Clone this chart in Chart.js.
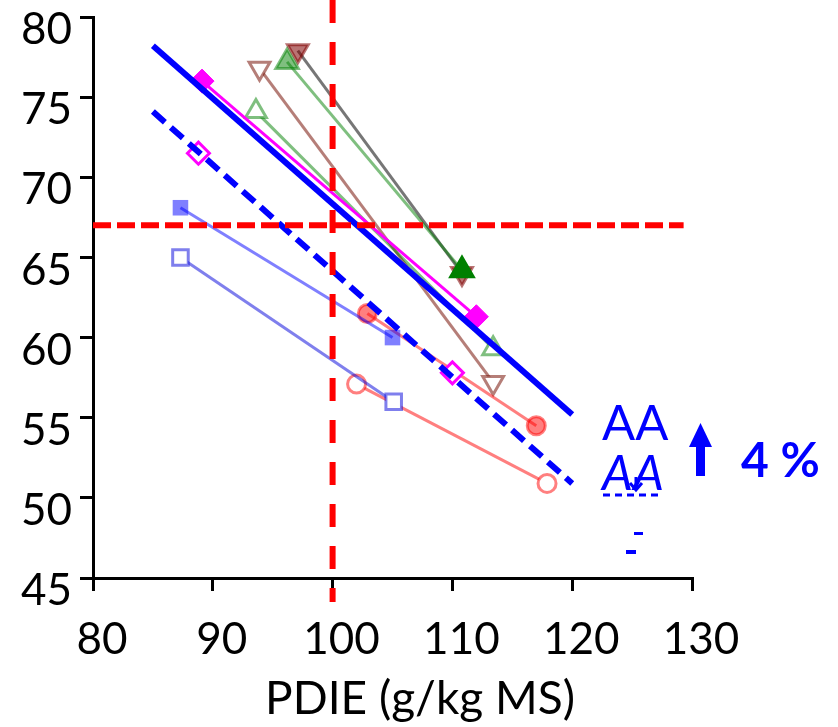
<!DOCTYPE html>
<html>
<head>
<meta charset="utf-8">
<script src="https://cdn.jsdelivr.net/npm/chart.js@4/dist/chart.umd.min.js"></script>
<style>
  html, body { margin: 0; padding: 0; background: #fff; }
  #wrap { width: 838px; height: 727px; }
</style>
</head>
<body>
<div id="wrap"><canvas id="myChart" width="838" height="727"></canvas></div>
<script>
// axes
const xTicks = [80, 90, 100, 110, 120, 130];
const yTicks = [45, 50, 55, 60, 65, 70, 75, 80];
const xTitle = 'PDIE (g/kg MS)';

// points (PDIE, y)
const magFullX = [89.1, 112.0];
const magFullY = [76.0, 61.3];
const magOpenX = [88.8, 110.0];
const magOpenY = [71.5, 57.8];
const blueFullX = [87.3, 105.0];
const blueFullY = [68.1, 60.0];
const blueOpenX = [87.3, 105.1];
const blueOpenY = [65.0, 56.0];
const redFullX = [102.9, 117.0];
const redFullY = [61.5, 54.5];
const redOpenX = [102.0, 117.9];
const redOpenY = [57.1, 50.9];
const greenFullX = [96.2, 110.8];
const greenFullY = [77.2, 64.2];
const greenOpenX = [93.6, 113.4];
const greenOpenY = [74.1, 59.3];
const brownOpenX = [93.9, 113.4];
const brownOpenY = [76.8, 57.2];
const brownFullX = [97.1, 110.8];
const brownFullY = [77.9, 64.0];

// regression lines
const regX = [85, 120];
const regSolidY = [78.2, 55.2];
const regDashY = [74.1, 50.9];

// reference lines
const refX = 100;
const refY = 67;

function pts(xs, ys) {
    return xs.map((x, i) => ({ x: x, y: ys[i] }));
}

function serie(xs, ys, style) {
    return Object.assign({
        data: pts(xs, ys),
        showLine: true,
        borderWidth: 3,
        pointBorderWidth: 3,
        order: 2
    }, style);
}

const blue = '#0000ff';

const datasets = [
    serie(regX, regSolidY, { borderColor: blue, borderWidth: 6, pointRadius: 0, order: 1 }),
    serie(regX, regDashY, { borderColor: blue, borderWidth: 6, borderDash: [16, 8], pointRadius: 0, order: 1 }),
    serie(magFullX, magFullY, { borderColor: '#ff00ff', backgroundColor: '#ff00ff', pointStyle: 'rectRot', pointRadius: 12, pointBorderWidth: 1 }),
    serie(magOpenX, magOpenY, { showLine: false, borderColor: '#ff00ff', backgroundColor: '#fff', pointStyle: 'rectRot', pointRadius: 11, pointBorderWidth: 3 }),
    serie(blueFullX, blueFullY, { borderColor: 'rgba(0,0,255,0.5)', backgroundColor: 'rgba(0,0,255,0.5)', pointStyle: 'rect', pointRadius: 11, pointBorderWidth: 0 }),
    serie(blueOpenX, blueOpenY, { borderColor: 'rgba(0,0,220,0.5)', backgroundColor: '#fff', pointStyle: 'rect', pointRadius: 11 }),
    serie(redFullX, redFullY, { borderColor: 'rgba(255,0,0,0.5)', backgroundColor: 'rgba(255,0,0,0.5)', pointStyle: 'circle', pointRadius: 9 }),
    serie(redOpenX, redOpenY, { borderColor: 'rgba(255,0,0,0.5)', backgroundColor: '#fff', pointStyle: 'circle', pointRadius: 9 }),
    serie(greenFullX, greenFullY, { borderColor: 'rgba(0,128,0,0.5)', backgroundColor: ['rgba(0,128,0,0.5)', '#008000'], pointBorderColor: ['rgba(0,128,0,0.5)', '#008000'], pointStyle: 'triangle', pointRadius: 13 }),
    serie(greenOpenX, greenOpenY, { borderColor: 'rgba(0,128,0,0.5)', backgroundColor: '#fff', pointStyle: 'triangle', pointRadius: 12 }),
    serie(brownOpenX, brownOpenY, { borderColor: 'rgba(120,20,10,0.55)', backgroundColor: '#fff', pointStyle: 'triangle', rotation: 180, pointRadius: 12 }),
    serie(brownFullX, brownFullY, { borderColor: 'rgba(60,60,60,0.7)', backgroundColor: 'rgba(128,0,0,0.55)', pointBorderColor: 'rgba(128,0,0,0.55)', pointStyle: 'triangle', rotation: 180, pointRadius: 12 })
];

// lignes de référence et annotations
const extras = {
    id: 'extras',
    afterDatasetsDraw(chart) {
        const ctx = chart.ctx;
        const xs = chart.scales.x, ys = chart.scales.y;
        ctx.save();
        ctx.strokeStyle = '#ff0000';
        ctx.lineWidth = 6;
        // vertical
        ctx.setLineDash([23, 19]);
        ctx.beginPath();
        const px = xs.getPixelForValue(refX);
        ctx.moveTo(px, 0);
        ctx.lineTo(px, ys.getPixelForValue(43.5));
        ctx.stroke();
        // horizontal
        ctx.setLineDash([18, 6]);
        ctx.beginPath();
        const py = ys.getPixelForValue(refY);
        ctx.moveTo(chart.chartArea.left, py);
        ctx.lineTo(xs.getPixelForValue(129.3), py);
        ctx.stroke();
        ctx.restore();
    },
    afterDraw(chart) {
        const ctx = chart.ctx;
        ctx.save();
        // titre de l'axe x
        ctx.fillStyle = '#000';
        ctx.textAlign = 'center';
        ctx.textBaseline = 'alphabetic';
        ctx.font = '46px Lato';
        ctx.fillText(xTitle, 420, 714);
        ctx.textAlign = 'left';

        ctx.fillStyle = blue;
        ctx.strokeStyle = blue;
        ctx.font = '49px Lato';
        ctx.fillText('AA', 602, 440);
        ctx.font = 'italic 49px Lato';
        ctx.fillText('AA', 602, 490);
        // pointillé sous le second AA
        ctx.lineWidth = 3;
        ctx.setLineDash([7, 5]);
        ctx.beginPath();
        ctx.moveTo(603, 495);
        ctx.lineTo(662, 495);
        ctx.stroke();
        ctx.setLineDash([]);
        // petite flèche
        ctx.beginPath();
        ctx.moveTo(636, 477);
        ctx.lineTo(636, 488);
        ctx.stroke();
        ctx.beginPath();
        ctx.moveTo(630, 483);
        ctx.lineTo(636, 490);
        ctx.lineTo(642, 483);
        ctx.stroke();
        ctx.fillRect(634, 532, 9, 3);
        ctx.fillRect(626, 550, 10, 4);
        // flèche vers le haut
        ctx.fillRect(696, 446, 9, 30);
        ctx.beginPath();
        ctx.moveTo(689, 447);
        ctx.lineTo(712, 447);
        ctx.lineTo(700.5, 423);
        ctx.closePath();
        ctx.fill();
        ctx.font = 'bold 48px Lato';
        ctx.fillText('4 %', 741, 477);
        ctx.restore();
    }
};

const ctx = document.getElementById('myChart').getContext('2d');
new Chart(ctx, {
    type: 'scatter',
    data: { datasets: datasets },
    options: {
        responsive: false,
        animation: false,
        layout: {
            autoPadding: false,
            padding: { top: 17, right: 146, left: 0, bottom: 0 }
        },
        plugins: {
            legend: { display: false },
            tooltip: { enabled: false }
        },
        elements: { line: { tension: 0 } },
        scales: {
            x: {
                type: 'linear',
                min: 80,
                max: 130,
                afterFit: (s) => { s.height = 149; s.paddingLeft = 0; s.paddingRight = 0; },
                afterBuildTicks: (s) => { s.ticks = xTicks.map(v => ({ value: v })); },
                border: { display: true, color: '#000', width: 3 },
                grid: { display: true, drawOnChartArea: false, drawTicks: true, tickLength: 13, color: '#000', lineWidth: 3 },
                ticks: { color: '#000', font: { family: 'Lato', size: 44 }, padding: 22, labelOffset: 9, maxRotation: 0 }
            },
            y: {
                type: 'linear',
                min: 45,
                max: 80,
                afterFit: (s) => { s.width = 93; s.paddingTop = 0; s.paddingBottom = 0; },
                afterBuildTicks: (s) => { s.ticks = yTicks.map(v => ({ value: v })); },
                border: { display: true, color: '#000', width: 3 },
                grid: { display: true, drawOnChartArea: false, drawTicks: true, tickLength: 13, color: '#000', lineWidth: 3 },
                ticks: { color: '#000', font: { family: 'Lato', size: 44 }, padding: 8, labelOffset: 13 }
            }
        }
    },
    plugins: [extras]
});
</script>
</body>
</html>
